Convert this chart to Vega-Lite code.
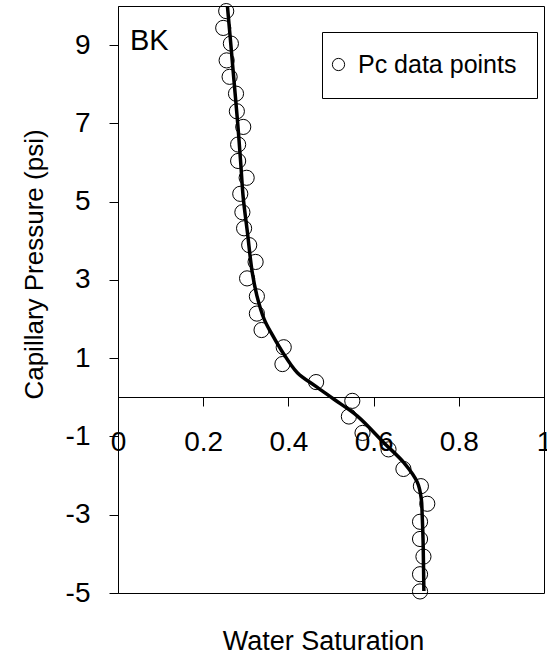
{
  "$schema": "https://vega.github.io/schema/vega-lite/v6.json",
  "width": 426,
  "height": 587,
  "autosize": {"type": "none"},
  "padding": {"left": 118, "top": 6, "right": 3, "bottom": 69},
  "background": "white",
  "config": {
    "view": {"stroke": "black", "strokeWidth": 1},
    "font": "Liberation Sans",
    "axis": {
      "labelFont": "Liberation Sans",
      "titleFont": "Liberation Sans",
      "labelColor": "black",
      "titleColor": "black",
      "domainColor": "black",
      "tickColor": "black",
      "grid": false,
      "labelFontSize": 28,
      "titleFontSize": 26,
      "titleFontWeight": "normal",
      "tickSize": 9,
      "tickWidth": 1,
      "domainWidth": 1
    }
  },
  "datasets": {
    "points": [
      {"sw": 0.254, "pc": 9.87},
      {"sw": 0.247, "pc": 9.44},
      {"sw": 0.265, "pc": 9.04},
      {"sw": 0.255, "pc": 8.61},
      {"sw": 0.262, "pc": 8.19},
      {"sw": 0.277, "pc": 7.76},
      {"sw": 0.279, "pc": 7.31},
      {"sw": 0.294, "pc": 6.91},
      {"sw": 0.282, "pc": 6.46},
      {"sw": 0.282, "pc": 6.04},
      {"sw": 0.302, "pc": 5.61},
      {"sw": 0.287, "pc": 5.2},
      {"sw": 0.292, "pc": 4.73},
      {"sw": 0.296, "pc": 4.32},
      {"sw": 0.308, "pc": 3.89},
      {"sw": 0.323, "pc": 3.46},
      {"sw": 0.303, "pc": 3.04},
      {"sw": 0.326, "pc": 2.58},
      {"sw": 0.326, "pc": 2.14},
      {"sw": 0.337, "pc": 1.72},
      {"sw": 0.389, "pc": 1.28},
      {"sw": 0.386, "pc": 0.85},
      {"sw": 0.465, "pc": 0.39},
      {"sw": 0.55, "pc": -0.09},
      {"sw": 0.542, "pc": -0.49},
      {"sw": 0.574, "pc": -0.91},
      {"sw": 0.635, "pc": -1.33},
      {"sw": 0.67, "pc": -1.83},
      {"sw": 0.711, "pc": -2.27},
      {"sw": 0.726, "pc": -2.72},
      {"sw": 0.709, "pc": -3.18},
      {"sw": 0.709, "pc": -3.62},
      {"sw": 0.717, "pc": -4.07},
      {"sw": 0.709, "pc": -4.52},
      {"sw": 0.709, "pc": -4.96}
    ],
    "curve": [
      {"sw": 0.257, "pc": 9.98},
      {"sw": 0.265, "pc": 9.0},
      {"sw": 0.273, "pc": 8.0},
      {"sw": 0.281, "pc": 7.0},
      {"sw": 0.288, "pc": 6.0},
      {"sw": 0.294, "pc": 5.1},
      {"sw": 0.304, "pc": 4.2},
      {"sw": 0.315, "pc": 3.2},
      {"sw": 0.326, "pc": 2.6},
      {"sw": 0.343, "pc": 2.0},
      {"sw": 0.362, "pc": 1.6},
      {"sw": 0.382, "pc": 1.23},
      {"sw": 0.421, "pc": 0.63},
      {"sw": 0.462, "pc": 0.3},
      {"sw": 0.507, "pc": -0.05},
      {"sw": 0.562, "pc": -0.48},
      {"sw": 0.624, "pc": -1.16},
      {"sw": 0.671, "pc": -1.67},
      {"sw": 0.703, "pc": -2.18},
      {"sw": 0.712, "pc": -2.6},
      {"sw": 0.714, "pc": -3.0},
      {"sw": 0.716, "pc": -3.6},
      {"sw": 0.717, "pc": -4.2},
      {"sw": 0.718, "pc": -4.95}
    ],
    "labels": [
      {"sw": 0.028, "pc": 8.87, "label": "BK"}
    ]
  },
  "layer": [
    {
      "data": {"name": "points"},
      "mark": {"type": "point", "shape": "circle", "filled": false, "color": "black", "size": 230, "strokeWidth": 1, "opacity": 1},
      "encoding": {
        "x": {
          "field": "sw", "type": "quantitative",
          "scale": {"domain": [0, 1], "nice": false, "zero": false},
          "axis": {
            "title": "Water Saturation",
            "values": [0, 0.2, 0.4, 0.6, 0.8, 1],
            "labelExpr": "'' + datum.value",
            "offset": -196,
            "labelPadding": 22,
            "labelFlush": false,
            "labelOverlap": false,
            "titleFontSize": 27,
            "titleX": 205,
            "titleY": 252,
            "titleBaseline": "alphabetic",
            "titleAnchor": "middle"
          }
        },
        "y": {
          "field": "pc", "type": "quantitative",
          "scale": {"domain": [-5, 10], "nice": false, "zero": false},
          "axis": {
            "title": "Capillary Pressure (psi)",
            "values": [9, 7, 5, 3, 1, -1, -3, -5],
            "labelExpr": "'' + datum.value",
            "labelPadding": 19,
            "labelOverlap": false,
            "labelFlush": false,
            "titleX": -76,
            "titleY": 258,
            "titleBaseline": "alphabetic",
            "titleAnchor": "middle"
          }
        },
        "shape": {
          "datum": "Pc data points",
          "type": "nominal",
          "scale": {"range": ["circle"]},
          "legend": {
            "title": null,
            "orient": "none",
            "legendX": 204,
            "legendY": 26,
            "strokeColor": "black",
            "fillColor": "white",
            "padding": 20,
            "labelFont": "Liberation Sans",
            "labelFontSize": 25,
            "labelColor": "black",
            "labelLimit": 400,
            "labelOffset": 7,
            "symbolOffset": -16,
            "symbolSize": 150,
            "symbolStrokeColor": "black",
            "symbolStrokeWidth": 1,
            "symbolFillColor": "transparent"
          }
        }
      }
    },
    {
      "data": {"name": "curve"},
      "mark": {"type": "line", "color": "black", "strokeWidth": 3.5, "interpolate": "catmull-rom"},
      "encoding": {
        "x": {"field": "sw", "type": "quantitative"},
        "y": {"field": "pc", "type": "quantitative"},
        "order": {"field": "pc", "sort": "descending"}
      }
    },
    {
      "data": {"name": "labels"},
      "mark": {"type": "text", "align": "left", "baseline": "alphabetic", "fontSize": 29, "font": "Liberation Sans", "color": "black"},
      "encoding": {
        "x": {"field": "sw", "type": "quantitative"},
        "y": {"field": "pc", "type": "quantitative"},
        "text": {"field": "label"}
      }
    }
  ]
}
